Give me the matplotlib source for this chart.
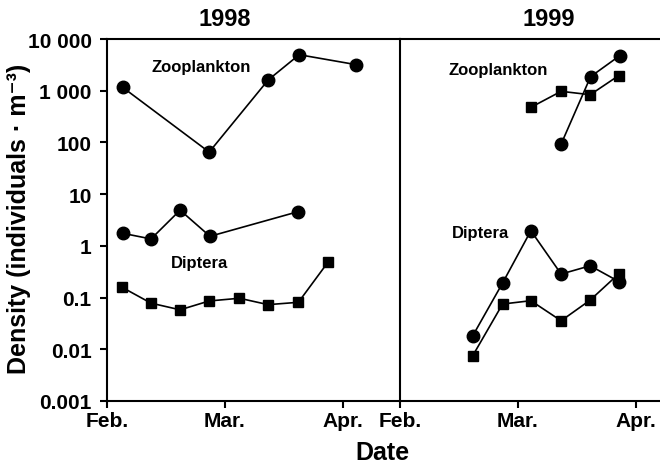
import matplotlib.pyplot as plt
from matplotlib.ticker import FixedLocator, NullLocator

plt.rcParams['font.family'] = ['Liberation Sans', 'DejaVu Sans']
plt.rcParams['font.weight'] = 'bold'

# days after 1 Feb
month_ticks = [0, 30, 60]
month_labels = ['Feb.', 'Mar.', 'Apr.']
y_ticks = [0.001, 0.01, 0.1, 1, 10, 100, 1000, 10000]
y_labels = ['0.001', '0.01', '0.1', '1', '10', '100', '1 000', '10 000']

# 1998
zoo98_day = [4.0, 26.0, 41.0, 48.9, 63.4]
zoo98_circ = [1160, 65, 1610, 4970, 3190]
dip98_circ_day = [4.0, 11.2, 18.6, 26.2, 48.7]
dip98_circ = [1.75, 1.36, 4.9, 1.53, 4.6]
dip98_sq_day = [3.9, 11.2, 18.6, 26.0, 33.7, 41.0, 48.7, 56.2]
dip98_sq = [0.157, 0.078, 0.058, 0.086, 0.097, 0.073, 0.081, 0.48]

# 1999
zoo99_circ_day = [41.0, 48.5, 55.9]
zoo99_circ = [93, 1870, 4750]
zoo99_sq_day = [33.3, 41.0, 48.4, 55.6]
zoo99_sq = [477, 973, 837, 1950]
dip99_circ_day = [18.5, 26.1, 33.3, 41.0, 48.4, 55.8]
dip99_circ = [0.0182, 0.191, 1.96, 0.285, 0.412, 0.202]
dip99_sq_day = [18.5, 26.1, 33.3, 41.0, 48.4, 55.6]
dip99_sq = [0.0075, 0.075, 0.087, 0.0356, 0.0895, 0.285]

fig = plt.figure(figsize=(6.6, 4.64), dpi=100)
ax1 = fig.add_axes([107 / 660, 1 - 402 / 464, 293 / 660, 362 / 464])
ax2 = fig.add_axes([400 / 660, 1 - 402 / 464, 260 / 660, 362 / 464])

circ = dict(color='black', marker='o', markersize=9, lw=1.2, clip_on=False)
sq = dict(color='black', marker='s', markersize=7.3, lw=1.2, clip_on=False)

ax1.plot(zoo98_day, zoo98_circ, **circ)
ax1.plot(dip98_circ_day, dip98_circ, **circ)
ax1.plot(dip98_sq_day, dip98_sq, **sq)

ax2.plot(zoo99_circ_day, zoo99_circ, **circ)
ax2.plot(zoo99_sq_day, zoo99_sq, **sq)
ax2.plot(dip99_circ_day, dip99_circ, **circ)
ax2.plot(dip99_sq_day, dip99_sq, **sq)

for ax, xmax in ((ax1, 293 / 3.93), (ax2, 260 / 3.93)):
    ax.set_yscale('log')
    ax.set_ylim(0.001, 10000)
    ax.set_xlim(0, xmax)
    ax.xaxis.set_major_locator(FixedLocator(month_ticks))
    ax.set_xticklabels(month_labels, fontsize=15, fontweight='bold')
    ax.tick_params(axis='x', direction='out', length=5, width=1.5, pad=2)
    ax.yaxis.set_minor_locator(NullLocator())
    for s in ax.spines.values():
        s.set_linewidth(1.5)

ax1.spines['right'].set_visible(False)
ax1.yaxis.set_major_locator(FixedLocator(y_ticks))
ax1.set_yticklabels(y_labels, fontsize=15, fontweight='bold')
ax1.tick_params(axis='y', direction='out', length=5, width=1.5, pad=6)

ax2.spines['right'].set_visible(False)
ax2.yaxis.set_major_locator(NullLocator())
ax2.tick_params(axis='y', left=False, labelleft=False)

ax1.set_title('1998', fontsize=17, fontweight='bold', pad=10, x=0.402)
ax2.set_title('1999', fontsize=17, fontweight='bold', pad=10, x=0.573)

lab = dict(fontsize=12, fontweight='bold', ha='center', va='baseline')
ax1.text(0.321, 0.912, 'Zooplankton', transform=ax1.transAxes, **lab)
ax1.text(0.316, 0.371, 'Diptera', transform=ax1.transAxes, **lab)
ax2.text(0.377, 0.903, 'Zooplankton', transform=ax2.transAxes, **lab)
ax2.text(0.311, 0.452, 'Diptera', transform=ax2.transAxes, **lab)

fig.text(19 / 660, 1 - 219 / 464, 'Density (individuals · m⁻³)', fontsize=18,
         fontweight='bold', rotation=90, ha='center', va='center')
fig.text(382 / 660, 1 - 453 / 464, 'Date', fontsize=18, fontweight='bold',
         ha='center', va='center')

fig.savefig('out.png', dpi=100)
